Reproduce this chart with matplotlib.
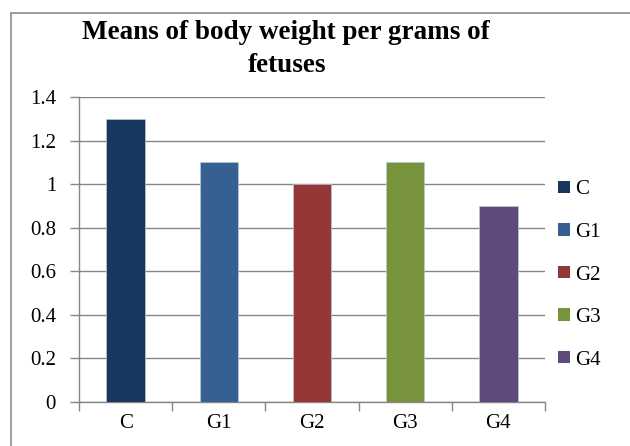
import matplotlib; matplotlib.use('Agg')
import matplotlib.pyplot as plt
from matplotlib.patches import Rectangle, Patch

groups  = ['C', 'G1', 'G2', 'G3', 'G4']
weights = [1.3, 1.1, 1.0, 1.1, 0.9]
colors  = ['#17375E', '#376092', '#953735', '#77933C', '#604A7B']
yticks  = [0, 0.2, 0.4, 0.6, 0.8, 1, 1.2, 1.4]
ylabels = ['0', '0.2', '0.4', '0.6', '0.8', '1', '1.2', '1.4']

plt.rcParams['font.family'] = ['Liberation Serif', 'DejaVu Serif']

fig = plt.figure(figsize=(6.3, 4.46), dpi=100)
fig.patch.set_facecolor('white')

# outer chart border (cut off on right/bottom like the screenshot)
W, H = 630, 446
fig.add_artist(Rectangle((10.5/W, -0.1), 1.2, 1 - 13/H + 0.1, transform=fig.transFigure,
                         fill=False, edgecolor='#8C8C8C', lw=1.2))

ax = fig.add_axes([79/W, 1 - 402/H, (545 - 79)/W, (402 - 97)/H])
x = list(range(len(groups)))
ax.bar(x, weights, width=0.41, color=colors, edgecolor='#B9C9DA', lw=0.5, zorder=3)

ax.set_xlim(-0.5, len(groups) - 0.5)
ax.set_ylim(0, 1.4)
ax.set_yticks(yticks)
ax.set_yticklabels(ylabels)
ax.set_xticks(x)
ax.set_xticklabels(groups)
ax.set_xticks([i - 0.5 for i in range(len(groups) + 1)], minor=True)
ax.tick_params(axis='x', which='major', length=0, pad=8.5, labelsize=15)
ax.tick_params(axis='x', which='minor', length=6.5, color='#868686', width=1)
ax.tick_params(axis='y', length=6.5, color='#868686', width=1, pad=10, labelsize=15)
ax.grid(True, axis='y', color='#868686', lw=1, zorder=0)
for s in ['top', 'right']:
    ax.spines[s].set_visible(False)
for s in ['left', 'bottom']:
    ax.spines[s].set_color('#868686')
    ax.spines[s].set_linewidth(1)

fig.text(286/W, 1 - 39/H, 'Means of body weight per grams of', ha='center', va='baseline',
         fontsize=19.5, fontweight='bold')
fig.text(287/W, 1 - 72/H, 'fetuses', ha='center', va='baseline',
         fontsize=19.5, fontweight='bold')

handles = [Patch(facecolor=c, edgecolor='none') for c in colors]
fig.legend(handles, groups, loc='center left', bbox_to_anchor=(550/W, 1 - 275/H),
           frameon=False, fontsize=15, handlelength=0.55, handleheight=0.55,
           handletextpad=0.25, labelspacing=1.13, borderaxespad=0)

plt.savefig('out.png', dpi=100, facecolor=fig.get_facecolor())
